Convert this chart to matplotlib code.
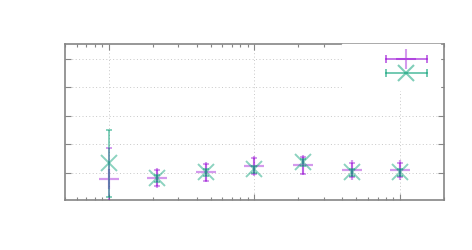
import matplotlib
matplotlib.use("Agg")
import matplotlib.pyplot as plt
from matplotlib.lines import Line2D
from matplotlib.legend_handler import HandlerLine2D, HandlerTuple

# data
xs = [1, 2.15, 4.64, 10, 21.5, 46.4, 100]
a_y = [0.78, 0.82, 1.01, 1.24, 1.26, 1.09, 1.09]
a_err = [1.09, 0.28, 0.30, 0.29, 0.29, 0.25, 0.25]
b_y = [1.33, 0.80, 1.02, 1.12, 1.36, 1.01, 1.01]
b_err = [1.17, 0.12, 0.12, 0.12, 0.12, 0.12, 0.12]
yticks = [1, 2, 3, 4, 5]

c_a = '#9400d3'
c_b = '#009e73'
grey = '#858585'

fig = plt.figure(figsize=(4.72, 2.5), dpi=100)
ax = fig.add_axes([65 / 472, 50 / 250, 379 / 472, 156 / 250])

# series a: magenta plus with error bars
ax.errorbar(xs, a_y, yerr=a_err, fmt='none', ecolor=c_a, alpha=0.5,
            elinewidth=1.1, capsize=2.5, capthick=1.1, zorder=3)
ax.plot(xs, a_y, ls='none', marker='+', ms=15, mew=1.6, color=c_a,
        alpha=0.4, zorder=3)

# series b: green cross with error bars
ax.errorbar(xs, b_y, yerr=b_err, fmt='none', ecolor=c_b, alpha=0.6,
            elinewidth=1.1, capsize=2.5, capthick=1.1, zorder=4)
ax.plot(xs, b_y, ls='none', marker='x', ms=12, mew=1.4, color=c_b,
        alpha=0.45, zorder=4)

ax.set_xscale('log')
ax.set_xlim(0.5, 200)
ax.set_ylim(0.04, 5.52)
ax.set_yticks(yticks)
ax.set_xticks([1, 10, 100])
ax.tick_params(which='both', direction='in', top=True, right=True,
               labelbottom=False, labelleft=False, color=grey)
ax.tick_params(which='major', length=4, width=0.8)
ax.tick_params(which='minor', length=2.2, width=0.8)
for s in ax.spines.values():
    s.set_color(grey)
    s.set_linewidth(1.2)
ax.grid(True, which='major', ls=(0, (1, 2.5)), lw=0.7, color='#c8c8c8')
ax.set_axisbelow(True)

# key samples: horizontal line with end caps plus the marker
def key_handle(color, marker, ms, alpha):
    bar = Line2D([], [], color=color, lw=1.1, marker='|', ms=6, mew=1.1,
                 alpha=0.7)
    pt = Line2D([], [], color=color, ls='none', marker=marker, ms=ms,
                mew=1.5, alpha=alpha)
    return (bar, pt), bar

ha, bar_a = key_handle(c_a, '+', 15, 0.4)
hb, bar_b = key_handle(c_b, 'x', 12, 0.5)
leg = ax.legend([ha, hb], ['', ''], loc='upper right',
                bbox_to_anchor=(1 - 4 / 379, 1), borderaxespad=0,
                markerfirst=False, handlelength=3.55, handleheight=1.0,
                handletextpad=2.2, borderpad=0.65, labelspacing=0.03,
                frameon=True, fancybox=False, framealpha=1,
                edgecolor='white', facecolor='white',
                handler_map={tuple: HandlerTuple(ndivide=1),
                             bar_a: HandlerLine2D(numpoints=2),
                             bar_b: HandlerLine2D(numpoints=2)})
leg.set_zorder(5)

fig.savefig('out.png', dpi=100)
